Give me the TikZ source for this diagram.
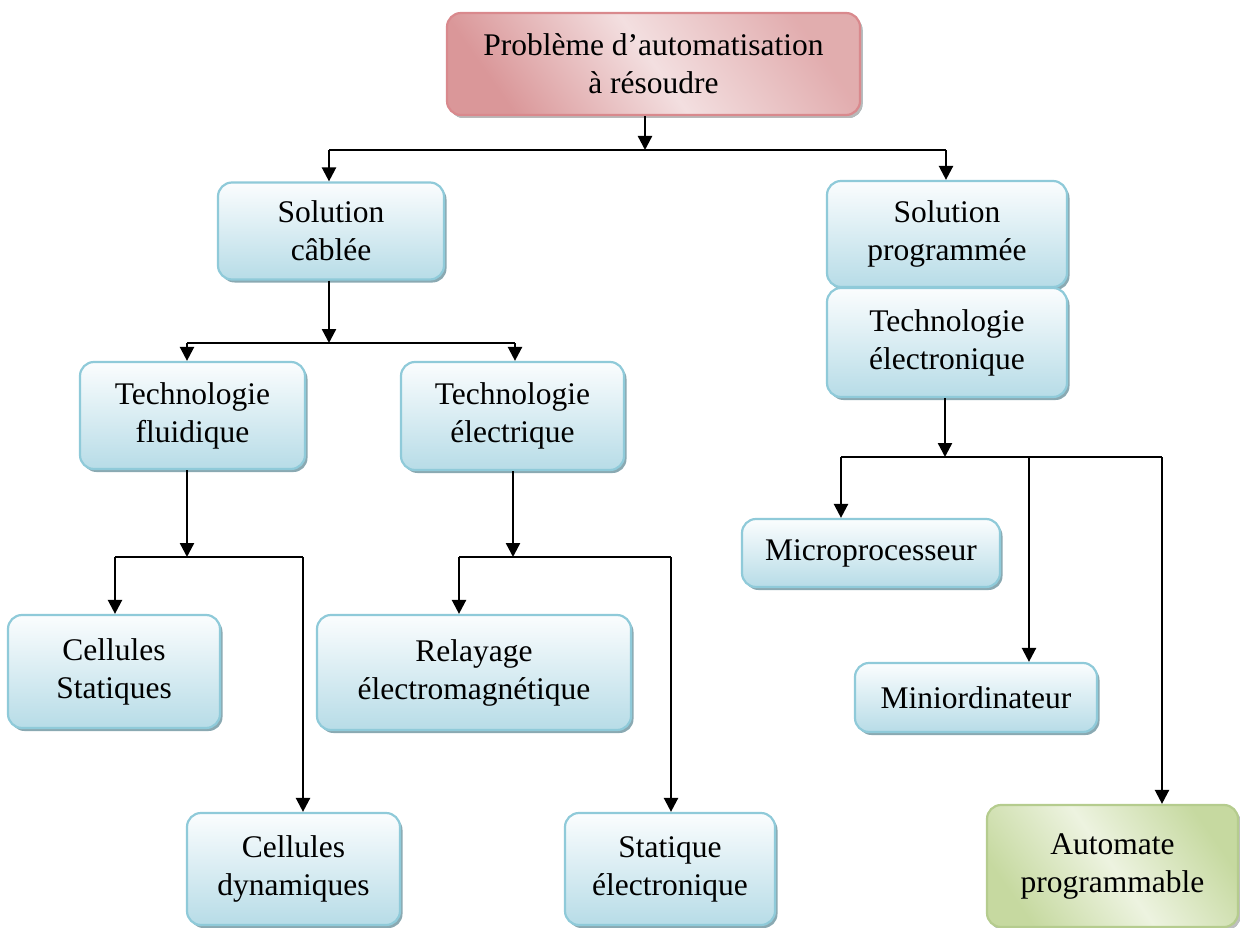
\documentclass[tikz,border=0pt]{standalone}
\usepackage{fontspec}
\setmainfont{Liberation Serif}
\usetikzlibrary{arrows.meta,shadows}

\definecolor{bluetop}{HTML}{FBFDFE}
\definecolor{bluebot}{HTML}{B7DCE7}
\definecolor{blueline}{HTML}{8FCAD9}
\definecolor{blueshadow}{HTML}{8AA9B2}
\definecolor{pinkedge}{HTML}{DA9799}
\definecolor{pinkmid}{HTML}{F3DFE0}
\definecolor{pinkline}{HTML}{D9898D}
\definecolor{greenedge}{HTML}{C6D9A0}
\definecolor{greenmid}{HTML}{EDF3E0}
\definecolor{greenline}{HTML}{B5CC8E}

\tikzset{
  x=1pt, y=-1pt,
  box/.style={rectangle, rounded corners=14pt, line width=2.2pt,
    inner sep=0pt, align=center,
    font=\fontsize{31.5}{38}\selectfont,
    general shadow={fill=blueshadow, shadow xshift=2.5pt, shadow yshift=-3pt}},
  bluebox/.style={box, draw=blueline, top color=bluetop, bottom color=bluebot},
  pinkbox/.style={box, draw=pinkline, left color=pinkedge, right color=pinkedge!70!pinkmid,
    middle color=pinkmid, shading angle=125,
    general shadow={fill=gray!55, shadow xshift=2.5pt, shadow yshift=-3pt}},
  greenbox/.style={box, draw=greenline, left color=greenedge, right color=greenedge,
    middle color=greenmid, shading angle=125,
    general shadow={fill=gray!50, shadow xshift=2.5pt, shadow yshift=-3pt}},
  wire/.style={line width=2.4pt, black},
  arr/.style={wire, -{Triangle[width=14pt,length=14pt]}},
}

\begin{document}
\begin{tikzpicture}
\useasboundingbox (0,0) rectangle (1240,928);

% boxes
\node[pinkbox, minimum width=413pt, minimum height=102pt] (pb) at (653.5,64) {Problème d’automatisation\\à résoudre};
\node[bluebox, minimum width=226pt, minimum height=97pt] (sc) at (331,231) {Solution\\câblée};
\node[bluebox, minimum width=240pt, minimum height=106pt] (sp) at (947,234) {Solution\\programmée};
\node[bluebox, minimum width=240pt, minimum height=109pt] (te) at (947,342.5) {Technologie\\électronique};
\node[bluebox, minimum width=225pt, minimum height=107pt] (tf) at (192.5,415.5) {Technologie\\fluidique};
\node[bluebox, minimum width=223pt, minimum height=108pt] (tel) at (512.5,416) {Technologie\\électrique};
\node[bluebox, minimum width=212pt, minimum height=113pt] (cs) at (114,671.5) {Cellules\\Statiques};
\node[bluebox, minimum width=314pt, minimum height=115pt] (rel) at (474,672.5) {Relayage\\électromagnétique};
\node[bluebox, minimum width=213pt, minimum height=112pt] (cd) at (293.5,869) {Cellules\\dynamiques};
\node[bluebox, minimum width=210pt, minimum height=112pt] (se) at (670,869) {Statique\\électronique};
\node[bluebox, minimum width=258pt, minimum height=68pt] (mp) at (871,553) {Microprocesseur};
\node[bluebox, minimum width=242pt, minimum height=69pt] (mo) at (976,697.5) {Miniordinateur};
\node[greenbox, minimum width=251pt, minimum height=122pt] (ap) at (1112.5,866) {Automate\\programmable};

% junction points
\coordinate (j1) at (645,150);
\coordinate (j1l) at (329,150);
\coordinate (j1r) at (946,150);
\coordinate (j2) at (329,343);
\coordinate (j2l) at (187,343);
\coordinate (j2r) at (515,343);
\coordinate (j3) at (187,557);
\coordinate (j3l) at (115,557);
\coordinate (j3r) at (303,557);
\coordinate (j4) at (513,557);
\coordinate (j4l) at (459,557);
\coordinate (j4r) at (671,557);
\coordinate (j5) at (945,457);
\coordinate (j5l) at (841,457);
\coordinate (j5m) at (1029,457);
\coordinate (j5r) at (1162,457);

% level 1
\draw[arr] (pb.south -| j1) -- (j1);
\draw[wire] (j1l) -- (j1r);
\draw[arr] (j1l) -- (sc.north -| j1l);
\draw[arr] (j1r) -- (sp.north -| j1r);

% wired branch
\draw[arr] (sc.south -| j2) -- (j2);
\draw[wire] (j2l) -- (j2r);
\draw[arr] (j2l) -- (tf.north -| j2l);
\draw[arr] (j2r) -- (tel.north -| j2r);

% fluidic branch
\draw[arr] (tf.south -| j3) -- (j3);
\draw[wire] (j3l) -- (j3r);
\draw[arr] (j3l) -- (cs.north -| j3l);
\draw[arr] (j3r) -- (cd.north -| j3r);

% electric branch
\draw[arr] (tel.south -| j4) -- (j4);
\draw[wire] (j4l) -- (j4r);
\draw[arr] (j4l) -- (rel.north -| j4l);
\draw[arr] (j4r) -- (se.north -| j4r);

% programmed branch
\draw[arr] (te.south -| j5) -- (j5);
\draw[wire] (j5l) -- (j5r);
\draw[arr] (j5l) -- (mp.north -| j5l);
\draw[arr] (j5m) -- (mo.north -| j5m);
\draw[arr] (j5r) -- (ap.north -| j5r);
\end{tikzpicture}
\end{document}
